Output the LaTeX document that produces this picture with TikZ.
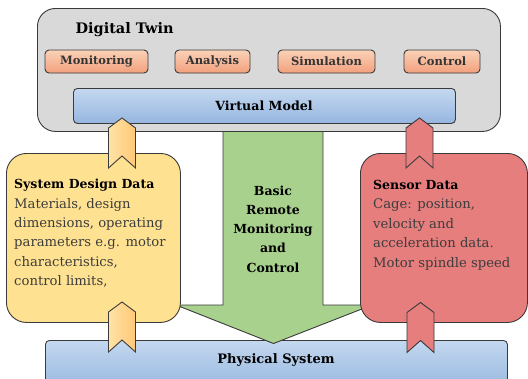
\documentclass[tikz,border=0pt]{standalone}
\usepackage{fontspec}
\setmainfont{DejaVu Serif}
\definecolor{twinfill}{HTML}{D9D9D9}
\definecolor{edge}{HTML}{3A3A3A}
\definecolor{orangeT}{HTML}{FAD2B8}
\definecolor{orangeB}{HTML}{F2A07C}
\definecolor{blueT}{HTML}{C4D8F0}
\definecolor{blueB}{HTML}{96B6DF}
\definecolor{yelbox}{HTML}{FFE291}
\definecolor{chevL}{HTML}{FFE2A6}
\definecolor{chevR}{HTML}{FFC977}
\definecolor{redbox}{HTML}{E67E7E}
\definecolor{greenarrow}{HTML}{A9D18E}
\definecolor{bodytext}{HTML}{3C3C3C}
\tikzset{
  outline/.style={draw=edge, line width=0.9pt},
  twinbox/.style={outline, fill=twinfill, rounded corners=18pt, anchor=north west, inner sep=0pt},
  funcbox/.style={outline, top color=orangeT, bottom color=orangeB, rounded corners=4pt,
     minimum height=23pt, inner sep=0pt, font=\fontsize{11.5}{13}\selectfont\bfseries, text=edge!90!black},
  bluebox/.style={outline, top color=blueT, bottom color=blueB, rounded corners=4pt,
     inner sep=0pt, anchor=north west},
  databox/.style={outline, rounded corners=20pt, anchor=north west, inner sep=0pt},
  bodyfont/.style={font=\fontsize{13.2}{19.4}\selectfont, text=bodytext, align=left, inner sep=0pt},
  chevron/.pic={\path[pic actions] (-13.5,0) -- (-13.5,-40) -- (0,-50) -- (13.5,-40) -- (13.5,0) -- (0,-12) -- cycle;},
  yelchev/.style={outline, left color=chevL, right color=chevR},
  redchev/.style={outline, fill=redbox},
}
\begin{document}
\begin{tikzpicture}[x=1pt,y=-1pt]
\useasboundingbox (0,0) rectangle (528,378);
\begin{scope}
\clip (0,0) rectangle (528,378);
% physical system
\node[bluebox, minimum width=462pt, minimum height=50pt] (phys) at (45,340) {};
\node[font=\fontsize{13}{15}\selectfont\bfseries] (physlabel) at (276,360) {Physical System};
% green block arrow
\draw[outline, fill=greenarrow] (223,126) -- (323,126) -- (323,305) -- (372,305) -- (273.5,343.5) -- (176,305) -- (223,305) -- cycle;
\node[font=\fontsize{12.5}{19.2}\selectfont\bfseries, align=center] (ctrl) at (273,229) {Basic\\Remote\\Monitoring\\and\\Control};
% digital twin
\node[twinbox, minimum width=463pt, minimum height=123pt] (twin) at (37,8) {};
\node[anchor=west, font=\fontsize{14.5}{16}\selectfont\bfseries] (twinlabel) at (72,30) {Digital Twin};
\node[funcbox, minimum width=103pt] (mon) at (96.5,61.5) {Monitoring};
\node[funcbox, minimum width=75pt] (ana) at (212.5,61.5) {Analysis};
\node[funcbox, minimum width=97pt] (sim) at (326.5,61.5) {Simulation};
\node[funcbox, minimum width=76pt] (con) at (442,61.5) {Control};
\node[bluebox, minimum width=382pt, minimum height=35pt] (vm) at (73,88) {};
\node[font=\fontsize{12.6}{14}\selectfont\bfseries] (vmlabel) at (264,105.5) {Virtual Model};
% data boxes
\node[databox, fill=yelbox, minimum width=174pt, minimum height=169pt] (design) at (6,153) {};
\node[bodyfont, anchor=north west] (designtext) at (14,179) {\textbf{\color{black}\fontsize{12.5}{19.4}\selectfont System Design Data}\\Materials, design\\dimensions, operating\\parameters e.g. motor\\characteristics,\\control limits,};
\node[databox, fill=redbox, minimum width=167pt, minimum height=169pt] (sensor) at (360,153) {};
\node[bodyfont, anchor=north west] (sensortext) at (373,180) {\textbf{\color{black}\fontsize{12.5}{19.4}\selectfont Sensor Data}\\Cage: position,\\velocity and\\acceleration data.\\Motor spindle speed};
% chevrons
\pic[yelchev] at (122,168) {chevron};
\pic[yelchev] at (122,352) {chevron};
\pic[redchev] at (419.5,168) {chevron};
\pic[redchev] at (420.5,352.5) {chevron};
\end{scope}
\end{tikzpicture}
\end{document}
